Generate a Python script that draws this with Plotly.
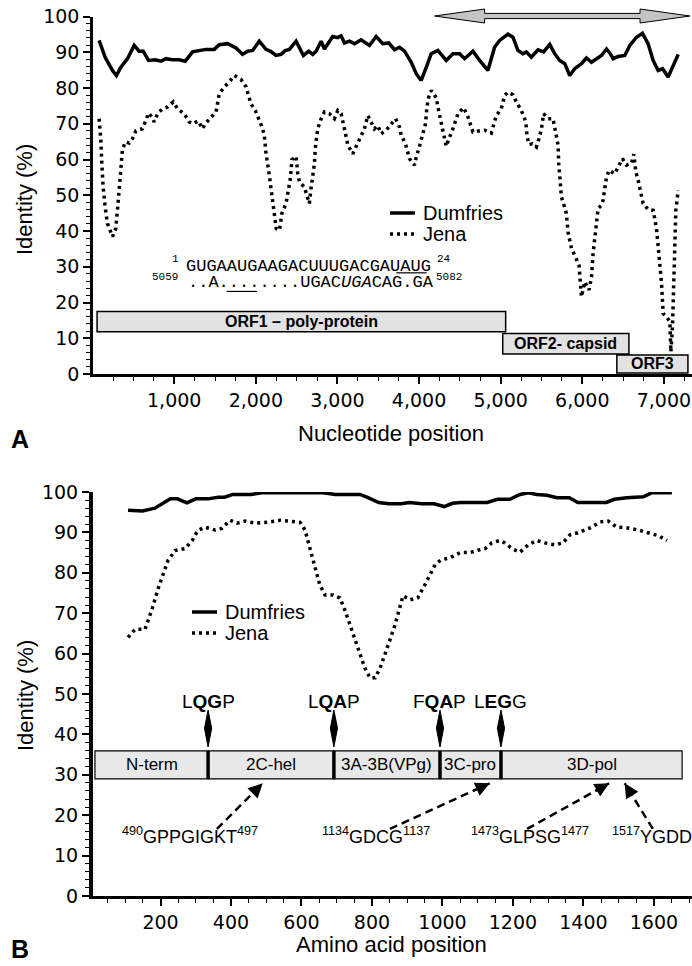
import plotly.graph_objects as go

# ---------------- Panel A data (nucleotide identity) ----------------
A_DUM_X = [80, 154, 244, 292, 347, 428, 509, 570, 620, 685, 767, 837, 898, 979, 1061, 1135,
           1225, 1307, 1389, 1491, 1552, 1654, 1757, 1838, 1899, 1961, 2042, 2125, 2186, 2247,
           2309, 2361, 2411, 2493, 2583, 2648, 2697, 2738, 2800, 2840, 2942, 3004, 3045, 3086,
           3147, 3209, 3290, 3392, 3474, 3555, 3629, 3699, 3760, 3822, 3904, 3965, 4026, 4088,
           4149, 4230, 4333, 4415, 4497, 4558, 4660, 4742, 4843, 4925, 4987, 5089, 5150, 5211,
           5273, 5314, 5376, 5457, 5526, 5601, 5662, 5723, 5785, 5846, 5907, 5990, 6051, 6112,
           6174, 6235, 6297, 6336, 6378, 6438, 6520, 6582, 6664, 6737, 6806, 6868, 6929, 6983,
           7052, 7113, 7175]
A_DUM_Y = [93.3, 88.6, 84.9, 83.5, 85.8, 88.2, 91.9, 90.3, 90.3, 87.7, 87.9, 87.5, 88.2, 87.9,
           87.9, 87.5, 90.1, 90.5, 90.8, 90.8, 92.1, 92.4, 91.2, 89.4, 90.3, 90.5, 93.1, 90.8,
           90.2, 89.1, 89.4, 90.5, 90.8, 93.1, 89.1, 90.3, 89.4, 90.3, 93.1, 90.9, 94.4, 94.1,
           94.6, 92.6, 93.1, 92.4, 93.5, 91.9, 94.4, 92.4, 92.6, 90.7, 91.4, 90.3, 87.2, 84.0,
           82.1, 85.8, 89.6, 90.5, 87.7, 89.6, 89.6, 88.2, 90.3, 87.7, 84.9, 91.4, 93.3, 95.1,
           94.2, 90.5, 89.6, 90.1, 88.6, 90.7, 90.1, 92.2, 89.6, 87.7, 86.8, 83.5, 85.4, 86.8,
           88.4, 87.2, 88.2, 89.1, 90.9, 89.8, 88.2, 88.8, 89.1, 91.9, 94.2, 95.3, 92.4, 87.7,
           84.9, 85.4, 83.1, 86.3, 89.4]

A_JENA_X = [80, 101, 113, 129, 154, 182, 244, 284, 305, 325, 347, 365, 399, 448, 488, 530, 611,
            653, 685, 727, 754, 795, 856, 918, 988, 1041, 1123, 1184, 1225, 1294, 1347, 1380,
            1450, 1512, 1532, 1552, 1614, 1675, 1737, 1818, 1879, 1912, 1941, 1994, 2035, 2076,
            2104, 2125, 2157, 2186, 2206, 2227, 2250, 2290, 2319, 2370, 2390, 2420, 2443, 2493,
            2513, 2534, 2595, 2635, 2656, 2676, 2697, 2718, 2730, 2758, 2800, 2840, 2902, 2963,
            3004, 3045, 3086, 3127, 3188, 3249, 3290, 3330, 3372, 3413, 3453, 3494, 3535, 3597,
            3658, 3712, 3760, 3781, 3833, 3883, 3944, 3965, 3997, 4046, 4079, 4096, 4119, 4149,
            4211, 4230, 4251, 4272, 4300, 4333, 4374, 4415, 4476, 4546, 4599, 4660, 4733, 4804,
            4885, 4913, 4946, 5008, 5048, 5089, 5150, 5192, 5253, 5294, 5314, 5322, 5347, 5388,
            5437, 5469, 5499, 5526, 5580, 5641, 5662, 5703, 5711, 5723, 5744, 5776, 5805, 5825,
            5867, 5907, 5960, 5990, 6030, 6083, 6113, 6132, 6153, 6174, 6194, 6235, 6254, 6275,
            6297, 6328, 6397, 6451, 6492, 6541, 6602, 6631, 6656, 6684, 6704, 6745, 6806, 6868,
            6909, 6941, 6971, 6991, 7032, 7073, 7081, 7085, 7105, 7113, 7121, 7134, 7146, 7175]
A_JENA_Y = [71.4, 65.4, 58.9, 52.3, 46.7, 42.1, 38.4, 40.7, 46.0, 52.8, 57.5, 62.6, 64.9, 64.6,
            65.8, 68.0, 68.6, 70.9, 73.0, 71.9, 70.5, 72.8, 74.2, 74.7, 76.1, 74.2, 72.8, 70.5,
            70.0, 70.8, 68.6, 70.0, 71.9, 73.3, 75.8, 78.4, 80.3, 81.7, 83.5, 82.4, 80.4, 77.9,
            75.6, 73.7, 71.4, 69.1, 66.8, 61.6, 57.0, 52.3, 47.7, 44.9, 40.7, 40.2, 44.9, 47.7,
            50.4, 54.2, 60.0, 60.9, 56.1, 53.7, 52.3, 49.5, 47.7, 51.9, 56.1, 58.9, 63.5, 68.6,
            71.4, 73.3, 72.8, 71.4, 73.7, 72.8, 68.6, 64.0, 61.6, 64.4, 66.3, 68.6, 72.3, 70.5,
            68.6, 69.5, 67.2, 68.2, 70.0, 71.4, 69.1, 66.8, 64.4, 60.2, 58.4, 60.7, 63.0, 67.2,
            70.0, 74.7, 77.5, 79.3, 77.3, 74.7, 72.3, 70.0, 67.2, 63.7, 66.3, 68.6, 72.8, 74.5,
            71.9, 67.7, 68.0, 68.2, 67.4, 69.7, 72.3, 74.2, 77.9, 78.8, 78.1, 76.1, 73.7, 71.4,
            69.1, 66.5, 64.2, 64.4, 63.5, 65.8, 68.6, 72.8, 71.4, 71.4, 68.6, 64.0, 58.9, 54.2,
            49.5, 47.2, 44.9, 39.7, 35.1, 33.2, 30.4, 21.6, 25.8, 23.5, 27.2, 33.7, 38.4, 43.0,
            46.3, 47.2, 48.6, 51.9, 55.1, 57.0, 56.0, 58.4, 60.2, 58.4, 58.9, 61.5, 56.5, 54.2,
            52.3, 47.7, 46.0, 45.8, 40.7, 33.7, 25.3, 16.9, 16.0, 14.6, 10.4, 6.2, 13.2, 20.7,
            28.1, 37.4, 45.8, 51.4]

# ORFs
ORF_NAMES = ["<b>ORF1 – poly-protein</b>", "<b>ORF2- capsid</b>", "<b>ORF3</b>"]
ORF_START = [55, 5025, 6423]
ORF_END = [5061, 6571, 7294]
ORF_LOW = [11.8, 5.6, 0.3]
ORF_HIGH = [17.5, 11.3, 5.3]

# sequence alignment text
SEQ_LINE1 = "GUGAAUGAAGACUUUGACGAUAUG"
SEQ_LINE2 = "..A........UGAC<i>UGA</i>CAG.GA"
SEQ_NUMS = ["1", "24", "5059", "5082"]

# genome region arrow (nucleotide positions)
ARROW_NT = [4190, 7320]

# ---------------- Panel B data (amino-acid identity) ----------------
B_DUM_X = [108, 149, 184, 201, 228, 248, 275, 300, 335, 364, 382, 405, 457, 487, 661, 696, 766,
           789, 819, 848, 883, 906, 941, 976, 1005, 1028, 1052, 1127, 1156, 1191, 1220, 1244,
           1267, 1296, 1325, 1360, 1384, 1465, 1488, 1523, 1570, 1593, 1651]
B_DUM_Y = [95.5, 95.3, 96.0, 96.8, 98.3, 98.3, 97.3, 98.3, 98.3, 98.7, 98.7, 99.4, 99.4, 99.8,
           99.8, 99.4, 99.4, 98.6, 97.4, 97.1, 97.1, 97.4, 97.1, 97.1, 96.4, 97.2, 97.4, 97.4,
           98.2, 98.2, 99.4, 99.8, 99.4, 99.2, 98.6, 98.6, 97.4, 97.4, 98.2, 98.6, 98.8, 99.8,
           99.8]

B_JENA_X = [108, 128, 156, 176, 193, 207, 221, 241, 270, 290, 306, 326, 355, 374, 397, 417, 440,
            468, 505, 539, 567, 596, 610, 618, 630, 641, 652, 667, 689, 709, 723, 738, 752, 766,
            780, 794, 809, 823, 837, 851, 865, 879, 888, 908, 930, 950, 964, 979, 996, 1021,
            1050, 1078, 1101, 1121, 1140, 1163, 1177, 1197, 1220, 1243, 1268, 1291, 1319, 1342,
            1362, 1384, 1404, 1424, 1447, 1470, 1495, 1525, 1555, 1585, 1612, 1637]
B_JENA_Y = [64.0, 66.0, 66.0, 71.0, 76.0, 79.5, 83.0, 85.5, 86.0, 88.0, 90.5, 91.3, 90.6, 91.0,
            93.0, 92.3, 92.8, 92.3, 92.5, 93.0, 92.8, 92.5, 90.6, 88.0, 84.4, 80.7, 77.0, 74.5,
            74.5, 73.8, 70.8, 67.0, 63.4, 59.7, 56.4, 54.0, 54.0, 56.4, 59.7, 63.4, 67.0, 71.3,
            74.3, 73.3, 73.8, 77.0, 79.5, 82.0, 83.2, 83.7, 85.0, 85.0, 85.6, 86.0, 87.4, 88.0,
            87.4, 86.0, 85.1, 86.9, 88.0, 87.4, 86.9, 87.4, 89.4, 89.9, 90.6, 91.3, 92.6, 92.8,
            91.3, 91.1, 90.6, 89.9, 89.2, 88.0]

# protein domains
DOMAIN_NAMES = ["N-term", "2C-hel", "3A-3B(VPg)", "3C-pro", "3D-pol"]
DOMAIN_BOUNDS = [14, 335, 692, 993, 1166, 1680]
DOMAIN_LOW, DOMAIN_HIGH = 29.0, 35.9

CLEAVE_POS = [335, 692, 993, 1166]
CLEAVE_LABELS = ["L<b>QG</b>P", "L<b>QA</b>P", "F<b>QA</b>P", "L<b>EG</b>G"]

MOTIF_LABELS = ["<sup>490</sup>GPPGIGKT<sup>497</sup>", "<sup>1134</sup>GDCG<sup>1137</sup>",
                "<sup>1473</sup>GLPSG<sup>1477</sup>", "<sup>1517</sup>YGDD<sup>1520</sup>"]
MOTIF_POS = [490, 1134, 1473, 1517]
MOTIF_LABEL_X = [284, 811, 1248, 1475]
MOTIF_TAIL_X = [360, 851, 1240, 1597]

LEGEND_NAMES = ["Dumfries", "Jena"]

# ---------------- layout geometry ----------------
W, H = 692, 966
FONT = "Liberation Sans, Arial, sans-serif"
WIDE = "DejaVu Sans, sans-serif"
MONO = "Liberation Mono, Courier New, monospace"

A_XRANGE = [5, 7344]
A_XDOM = [93 / W, 1.0]
A_YDOM = [1 - 374 / H, 1 - 16.5 / H]
B_XRANGE = [8.5, 1708]
B_XDOM = [93 / W, 1.0]
B_YDOM = [1 - 896 / H, 1 - 492 / H]

DUM_LINE = dict(color="black", width=3.5)
JENA_LINE = dict(color="black", width=3.5, dash="3px,4px")

fig = go.Figure()
fig.add_trace(go.Scatter(x=A_DUM_X, y=A_DUM_Y, mode="lines", name="Dumfries", line=DUM_LINE,
                         xaxis="x", yaxis="y", showlegend=False))
fig.add_trace(go.Scatter(x=A_JENA_X, y=A_JENA_Y, mode="lines", name="Jena", line=JENA_LINE,
                         xaxis="x", yaxis="y", showlegend=False))
fig.add_trace(go.Scatter(x=B_DUM_X, y=B_DUM_Y, mode="lines", name="Dumfries", line=DUM_LINE,
                         xaxis="x2", yaxis="y2", showlegend=False))
fig.add_trace(go.Scatter(x=B_JENA_X, y=B_JENA_Y, mode="lines", name="Jena", line=JENA_LINE,
                         xaxis="x2", yaxis="y2", showlegend=False))

shapes = []
ann = []


def px_x(p):
    return p / W


def px_y(p):
    return 1 - p / H


def text_ann(x, y, text, font, xref="paper", yref="paper", xanchor="center", yanchor="middle", **kw):
    return dict(x=x, y=y, xref=xref, yref=yref, text=text, xanchor=xanchor, yanchor=yanchor,
                showarrow=False, font=font, **kw)


# legends (drawn by hand for exact spacing)
for (lx, ly) in [(390, 213), (192, 612)]:
    for k, (nm, st) in enumerate(zip(LEGEND_NAMES, [DUM_LINE, JENA_LINE])):
        yy = px_y(ly + 21 * k)
        shapes.append(dict(type="line", xref="paper", yref="paper", x0=px_x(lx), x1=px_x(lx + 25),
                           y0=yy, y1=yy, line=st))
        ann.append(text_ann(px_x(lx + 31), yy, nm, dict(family=FONT, size=20, color="black"),
                            xanchor="left"))

# ORF boxes
for name, s, e, lo, hi in zip(ORF_NAMES, ORF_START, ORF_END, ORF_LOW, ORF_HIGH):
    shapes.append(dict(type="rect", xref="x", yref="y", x0=s, x1=e, y0=lo, y1=hi,
                       fillcolor="#e2e2e2", line=dict(color="black", width=1.5), layer="above"))
    ann.append(text_ann((s + e) / 2, (lo + hi) / 2, name, dict(family=FONT, size=16, color="black"),
                        xref="x", yref="y"))

# sequence alignment
a_px = (A_XDOM[1] - A_XDOM[0]) * W / (A_XRANGE[1] - A_XRANGE[0])  # px per nt
CHAR_W = 10.1 / a_px
SEQ1_X, SEQ1_Y = 1123, 30.3
SEQ2_X, SEQ2_Y = 1147, 25.6
mono17 = dict(family=MONO, size=17, color="black")
mono11 = dict(family=MONO, size=11, color="black")
ann.append(text_ann(SEQ1_X, SEQ1_Y, SEQ_LINE1, mono17, xref="x", yref="y", xanchor="left", height=16))
ann.append(text_ann(SEQ2_X, SEQ2_Y, SEQ_LINE2, mono17, xref="x", yref="y", xanchor="left", height=16))
ann.append(text_ann(SEQ1_X - 40, SEQ1_Y + 2.0, SEQ_NUMS[0], mono11, xref="x", yref="y", xanchor="right"))
ann.append(text_ann(SEQ1_X + 24 * CHAR_W + 100, SEQ1_Y + 2.0, SEQ_NUMS[1], mono11, xref="x", yref="y",
                    xanchor="left"))
ann.append(text_ann(SEQ2_X - 80, SEQ2_Y + 1.5, SEQ_NUMS[2], mono11, xref="x", yref="y", xanchor="right"))
ann.append(text_ann(SEQ2_X + 24 * CHAR_W + 60, SEQ2_Y + 1.5, SEQ_NUMS[3], mono11, xref="x", yref="y",
                    xanchor="left"))
shapes.append(dict(type="line", xref="x", yref="y", x0=SEQ1_X + 21 * CHAR_W, x1=SEQ1_X + 24 * CHAR_W,
                   y0=SEQ1_Y - 2.0, y1=SEQ1_Y - 2.0, line=dict(color="black", width=1.2)))
shapes.append(dict(type="line", xref="x", yref="y", x0=SEQ2_X + 4 * CHAR_W, x1=SEQ2_X + 7 * CHAR_W,
                   y0=SEQ2_Y - 2.5, y1=SEQ2_Y - 2.5, line=dict(color="black", width=1.2)))


# gray double arrow (paper coords derived from nucleotide positions)
def a_paper(v):
    return A_XDOM[0] + (v - A_XRANGE[0]) / (A_XRANGE[1] - A_XRANGE[0]) * (A_XDOM[1] - A_XDOM[0])


ax0, ax1 = a_paper(ARROW_NT[0]), a_paper(ARROW_NT[1])
yc = px_y(16)
hl = 50 / W
hh = 7 / H
sh = 2.6 / H
path = (f"M {ax0},{yc} L {ax0 + hl},{yc + hh} L {ax0 + hl},{yc + sh} L {ax1 - hl},{yc + sh} "
        f"L {ax1 - hl},{yc + hh} L {ax1},{yc} L {ax1 - hl},{yc - hh} L {ax1 - hl},{yc - sh} "
        f"L {ax0 + hl},{yc - sh} L {ax0 + hl},{yc - hh} Z")
shapes.append(dict(type="path", xref="paper", yref="paper", path=path, fillcolor="#c4c4c4",
                   line=dict(color="black", width=1)))

# Panel B domain bar
for i, name in enumerate(DOMAIN_NAMES):
    s, e = DOMAIN_BOUNDS[i], DOMAIN_BOUNDS[i + 1]
    shapes.append(dict(type="rect", xref="x2", yref="y2", x0=s, x1=e, y0=DOMAIN_LOW, y1=DOMAIN_HIGH,
                       fillcolor="#e8e8e8", line=dict(color="black", width=1.2), layer="below"))
    ann.append(text_ann((s + e) / 2, (DOMAIN_LOW + DOMAIN_HIGH) / 2, name,
                        dict(family=FONT, size=17, color="black"), xref="x2", yref="y2"))
for p in CLEAVE_POS:
    shapes.append(dict(type="line", xref="x2", yref="y2", x0=p, x1=p, y0=DOMAIN_LOW, y1=DOMAIN_HIGH,
                       line=dict(color="black", width=3.5)))

# cleavage sites with double-headed markers
for p, lab in zip(CLEAVE_POS, CLEAVE_LABELS):
    ann.append(text_ann(p, 48.2, lab, dict(family=FONT, size=19, color="black"), xref="x2", yref="y2"))
    hw = 3.6 / 0.3525
    shapes.append(dict(type="path", xref="x2", yref="y2",
                       path=f"M {p},46.0 L {p + hw},41.5 L {p},36.9 L {p - hw},41.5 Z",
                       fillcolor="black", line=dict(color="black", width=1)))

# motif labels with dashed arrows
MOTIF_Y, HEAD_Y, TAIL_Y = 14.9, 27.9, 16.6
for i, (lab, pos, lx, tx) in enumerate(zip(MOTIF_LABELS, MOTIF_POS, MOTIF_LABEL_X, MOTIF_TAIL_X)):
    ann.append(text_ann(lx, MOTIF_Y, lab, dict(family=FONT, size=18, color="black"), xref="x2",
                        yref="y2", xanchor="left" if i == 3 else "center"))
    shapes.append(dict(type="line", xref="x2", yref="y2", x0=tx, y0=TAIL_Y, x1=pos, y1=HEAD_Y,
                       line=dict(color="black", width=2.5, dash="8px,5px")))
    ann.append(dict(x=pos, y=HEAD_Y, xref="x2", yref="y2", ax=pos + 0.18 * (tx - pos),
                    ay=HEAD_Y + 0.18 * (TAIL_Y - HEAD_Y), axref="x2", ayref="y2", text="",
                    showarrow=True, arrowhead=2, arrowsize=1.3, arrowwidth=2.2, arrowcolor="black"))

# axis titles and panel letters
title_font = dict(family=FONT, size=22, color="black")
ann += [
    text_ann(px_x(25), px_y(200), "Identity (%)", title_font, textangle=-90),
    text_ann(px_x(25), px_y(696), "Identity (%)", title_font, textangle=-90),
    text_ann(px_x(391), px_y(433), "Nucleotide position", title_font),
    text_ann(px_x(391), px_y(944), "Amino acid position", title_font),
    text_ann(px_x(20), px_y(439), "<b>A</b>", dict(family=FONT, size=25, color="black")),
    text_ann(px_x(20), px_y(949), "<b>B</b>", dict(family=FONT, size=25, color="black")),
]

tickfont = dict(family=WIDE, size=19, color="black")
common_y = dict(range=[0, 100], tick0=0, dtick=10, ticks="outside", ticklen=7, tickwidth=1.5,
                tickcolor="black", showgrid=False, zeroline=False, showline=True, linecolor="black",
                tickfont=tickfont, automargin=False,
                minor=dict(dtick=2, ticks="outside", ticklen=4, tickwidth=1.2, tickcolor="black"))

fig.update_layout(
    width=W, height=H, margin=dict(l=0, r=0, t=0, b=0),
    paper_bgcolor="white", plot_bgcolor="white",
    font=dict(family=FONT, color="black"),
    xaxis=dict(domain=A_XDOM, anchor="y", range=A_XRANGE, tick0=0, dtick=1000, tickformat=",d",
               ticks="outside", ticklen=7, tickwidth=1.5, tickcolor="black", showgrid=False,
               zeroline=False, showline=True, linecolor="black", linewidth=2.5, tickfont=tickfont,
               automargin=False,
               minor=dict(dtick=250, ticks="outside", ticklen=4, tickwidth=1.2, tickcolor="black")),
    yaxis=dict(domain=A_YDOM, anchor="x", linewidth=2.5, **common_y),
    xaxis2=dict(domain=B_XDOM, anchor="y2", range=B_XRANGE, tick0=0, dtick=200,
                ticks="outside", ticklen=7, tickwidth=1.5, tickcolor="black", showgrid=False,
                zeroline=False, showline=True, linecolor="black", linewidth=3, tickfont=tickfont,
                automargin=False,
                minor=dict(dtick=50, ticks="outside", ticklen=4, tickwidth=1.2, tickcolor="black")),
    yaxis2=dict(domain=B_YDOM, anchor="x2", linewidth=4, **common_y),
    shapes=shapes, annotations=ann, showlegend=False,
)

fig.write_html("out.html", config={"displayModeBar": False},
               post_script="document.body.style.margin='0px';")
